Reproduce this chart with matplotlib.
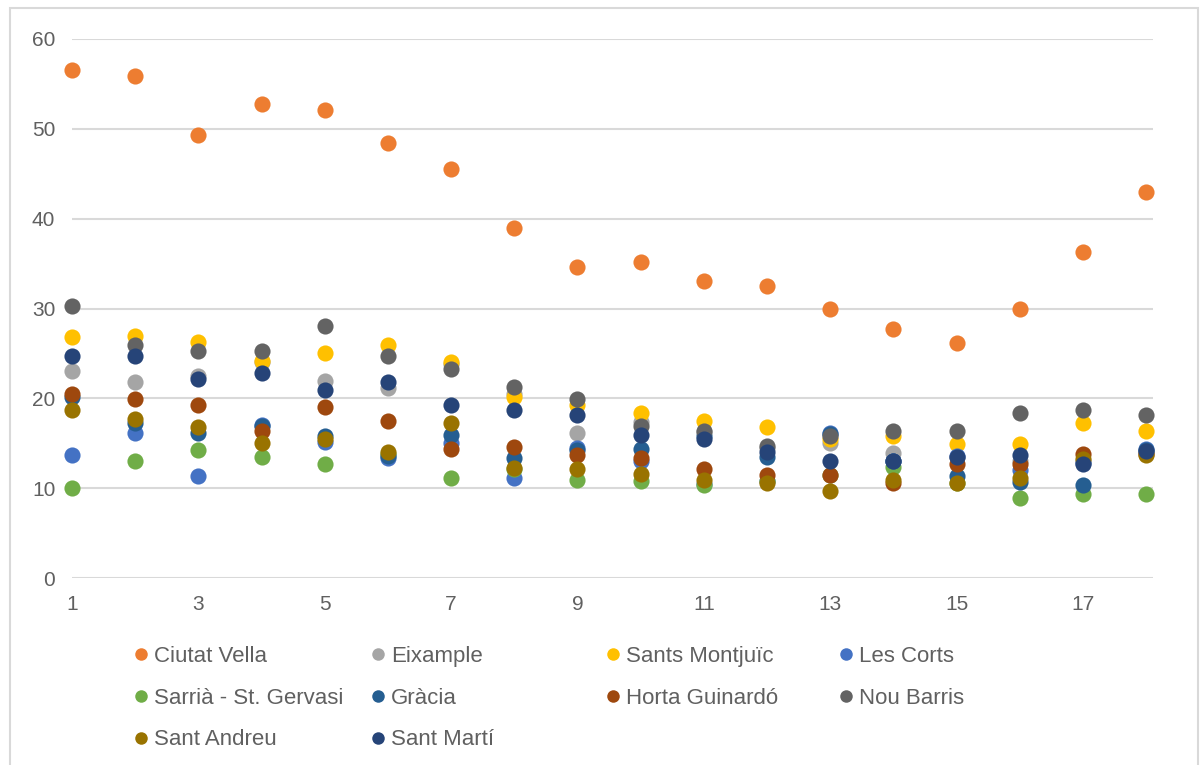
import matplotlib
matplotlib.use("Agg")
import matplotlib.pyplot as plt
from matplotlib.lines import Line2D
from matplotlib.patches import Rectangle

plt.rcParams["font.family"] = ["Liberation Sans", "DejaVu Sans"]

months = list(range(1, 19))

districts = [
    "Ciutat Vella", "Eixample", "Sants Montjuïc", "Les Corts",
    "Sarrià - St. Gervasi", "Gràcia", "Horta Guinardó", "Nou Barris",
    "Sant Andreu", "Sant Martí",
]

ciutat_vella = [56.5, 55.9, 49.3, 52.8, 52.1, 48.4, 45.5, 39.0, 34.6, 35.2,
                33.1, 32.5, 30.0, 27.7, 26.2, 30.0, 36.3, 43.0]
eixample = [23.0, 21.8, 22.5, 24.0, 21.9, 21.2, 23.8, 20.5, 16.1, 17.4,
            16.3, 14.5, 15.0, 13.9, 13.5, 13.0, 13.0, 14.0]
sants_montjuic = [26.8, 26.9, 26.3, 24.2, 25.0, 25.9, 24.0, 20.2, 19.3, 18.4,
                  17.5, 16.8, 15.5, 15.8, 14.9, 14.9, 17.2, 16.4]
les_corts = [13.7, 16.1, 11.4, 17.0, 15.1, 13.4, 15.0, 11.1, 14.5, 13.0,
             10.5, 10.8, 16.1, 13.0, 13.6, 12.0, 12.8, 14.4]
sarria = [10.0, 13.0, 14.3, 13.5, 12.7, 13.8, 11.1, 12.1, 10.9, 10.8,
          10.3, 10.8, 11.5, 12.4, 10.6, 8.9, 9.3, 9.3]
gracia = [20.2, 17.2, 16.1, 16.9, 15.8, 13.6, 15.9, 13.4, 14.3, 14.4,
          15.8, 13.5, 16.0, 13.0, 11.3, 10.7, 10.3, 14.2]
horta = [20.5, 19.9, 19.3, 16.4, 19.0, 17.5, 14.4, 14.6, 13.7, 13.4,
         12.1, 11.5, 11.5, 10.6, 12.7, 12.7, 13.8, 13.8]
nou_barris = [30.3, 25.9, 25.3, 25.3, 28.0, 24.7, 23.3, 21.3, 19.9, 16.9,
              16.4, 14.7, 15.8, 16.4, 16.4, 18.4, 18.7, 18.1]
sant_andreu = [18.7, 17.7, 16.8, 15.0, 15.5, 14.0, 17.2, 12.3, 12.1, 11.6,
               10.9, 10.6, 9.7, 10.9, 10.6, 11.1, 13.2, 13.7]
sant_marti = [24.7, 24.7, 22.2, 22.8, 20.9, 21.8, 19.3, 18.7, 18.1, 15.9,
              15.5, 14.0, 13.0, 13.0, 13.5, 13.7, 12.7, 14.1]

series = [ciutat_vella, eixample, sants_montjuic, les_corts, sarria,
          gracia, horta, nou_barris, sant_andreu, sant_marti]

colors = ["#ED7D31", "#A5A5A5", "#FFC000", "#4472C4", "#70AD47",
          "#255E91", "#9E480E", "#636363", "#997300", "#264478"]

text_color = "#606060"
grid_color = "#D9D9D9"

fig = plt.figure(figsize=(12.02, 7.65), dpi=100)
ax = fig.add_axes([72 / 1202, 1 - 578 / 765, 1081 / 1202, 539 / 765])

for values, color, name in zip(series, colors, districts):
    ax.scatter(months, values, s=135, color=color, linewidths=0,
               zorder=3, clip_on=False, label=name)

ax.set_xlim(1, 18.11)
ax.set_ylim(0, 60)
ax.set_xticks(range(1, 18, 2))
ax.set_yticks(range(0, 61, 10))
ax.grid(axis="y", color=grid_color, linewidth=1.5)
ax.set_axisbelow(True)
for spine in ax.spines.values():
    spine.set_visible(False)
ax.tick_params(length=0, labelsize=15, colors=text_color)
ax.tick_params(axis="y", pad=12)
ax.tick_params(axis="x", pad=12)

# legend: 4 fixed-width columns, filled row by row like Excel
col_x = [134, 371, 606, 839]
for c, x0 in enumerate(col_x):
    idx = list(range(c, len(districts), 4))
    handles = [Line2D([], [], marker="o", linestyle="none", markersize=9,
                      markerfacecolor=colors[i], markeredgewidth=0)
               for i in idx]
    labels = [districts[i] for i in idx]
    fig.legend(handles, labels, loc="upper left",
               bbox_to_anchor=(x0 / 1202, 1 - 646 / 765),
               frameon=False, fontsize=16, labelcolor=text_color,
               handlelength=0.6, handletextpad=0.3, labelspacing=0.93,
               borderpad=0, borderaxespad=0)

fig.add_artist(Rectangle((10 / 1202, -0.05), 1188 / 1202, 1 - 8 / 765 + 0.05,
                         transform=fig.transFigure, fill=False,
                         edgecolor=grid_color, linewidth=1.5))

fig.savefig("out.png", dpi=100)
